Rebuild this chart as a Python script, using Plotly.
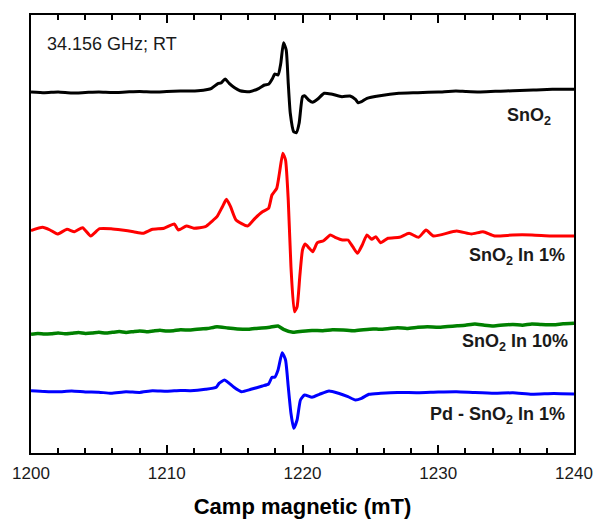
import plotly.graph_objects as go

# Magnetic field (mT) and EPR intensity (a.u., offset for display)
x_sno2 = [1200.0, 1201.0, 1202.0, 1203.0, 1204.0, 1205.0, 1206.0, 1207.0, 1208.0, 1209.0,
          1210.0, 1211.0, 1211.7, 1212.3, 1213.0, 1213.3, 1213.8, 1214.0, 1214.3, 1214.6,
          1215.0, 1215.4, 1216.1, 1216.8, 1217.2, 1217.5, 1217.8, 1217.95, 1218.2, 1218.4,
          1218.6, 1218.8, 1218.95, 1219.1, 1219.35, 1219.55, 1219.75, 1220.0, 1220.15, 1220.45,
          1220.75, 1221.1, 1221.6, 1222.1, 1222.9, 1223.5, 1223.9, 1224.1, 1224.35, 1224.75,
          1225.7, 1227.1, 1228.5, 1230.0, 1231.3, 1232.0, 1233.0, 1234.2, 1235.0, 1236.0,
          1237.0, 1238.4, 1240.0]
y_sno2 = [363, 362.3, 363, 362, 362.5, 363, 362.5, 363, 363.5, 363,
          363.5, 364, 364, 364.3, 365.5, 366.7, 371.7, 372, 376, 371.7,
          367.3, 364.3, 363.3, 366.7, 370, 370.7, 376.7, 381, 380, 391.7,
          412.3, 405, 371.7, 341.7, 323.3, 322.3, 331.7, 358.3, 359.3, 355,
          352.7, 355.7, 361.7, 361, 358.3, 359, 355.7, 352.3, 353.3, 356.7,
          359.3, 361.7, 362.3, 363, 364, 363.5, 363, 363.7, 364, 364.5,
          365, 365.7, 365.7]

x_in1 = [1200.0, 1200.85, 1201.4, 1201.95, 1202.65, 1203.2, 1203.8, 1204.4, 1205.05, 1205.9,
         1206.7, 1207.55, 1208.25, 1208.95, 1209.8, 1210.55, 1210.85, 1211.45, 1212.0, 1212.85,
         1213.3, 1213.7, 1214.1, 1214.4, 1214.7, 1215.1, 1215.95, 1216.5, 1217.05, 1217.5,
         1217.75, 1218.1, 1218.3, 1218.55, 1218.75, 1218.95, 1219.15, 1219.4, 1219.6, 1219.8,
         1220.0, 1220.2, 1220.5, 1220.75, 1221.1, 1221.55, 1222.05, 1222.4, 1222.95, 1223.35,
         1223.7, 1224.05, 1224.4, 1224.75, 1225.1, 1225.4, 1225.75, 1226.3, 1227.15, 1227.85,
         1228.55, 1229.1, 1229.65, 1231.35, 1232.45, 1233.3, 1234.15, 1235.5, 1236.9, 1238.3,
         1240.0]
y_in1 = [224.3, 227.7, 225, 221, 225.7, 223.3, 227.3, 219, 226.3, 226.3,
         225, 223.3, 221.7, 225.7, 226.7, 231, 225, 229, 226.7, 228.3,
         233.3, 238.3, 248.3, 255.7, 248.3, 235, 229, 236.7, 243.3, 246.7,
         260, 266.7, 281.7, 301.7, 295, 255, 188.3, 143.3, 148.3, 178.3,
         205, 211, 206.7, 203.3, 212.3, 214.3, 220, 217.7, 215, 215,
         208.3, 201.7, 210, 220, 215.7, 218.3, 212.3, 216.7, 217.7, 221.7,
         217.7, 225, 219, 224, 221, 223.3, 219, 220, 220, 219,
         219]

x_in10 = [1200.0, 1200.5, 1201.0, 1201.5, 1202.0, 1202.5, 1203.0, 1203.5, 1204.0, 1204.5,
          1205.0, 1205.5, 1206.0, 1206.5, 1207.0, 1207.5, 1208.0, 1208.5, 1209.0, 1209.5,
          1210.0, 1210.5, 1211.0, 1211.75, 1212.5, 1213.0, 1213.7, 1214.5, 1215.2, 1215.95,
          1216.5, 1217.0, 1217.6, 1218.2, 1218.6, 1219.3, 1220.0, 1220.7, 1221.5, 1222.2,
          1223.0, 1223.8, 1224.5, 1225.2, 1225.7, 1226.4, 1227.0, 1227.7, 1228.5, 1229.2,
          1230.0, 1230.7, 1231.4, 1232.0, 1232.7, 1233.4, 1234.1, 1234.8, 1235.5, 1236.2,
          1236.9, 1237.6, 1238.5, 1239.2, 1240.0]
y_in10 = [120.7, 121.5, 120.9, 121.3, 122.1, 121.2, 121.7, 122.5, 121.6, 122,
          122.8, 121.9, 122.7, 123.4, 122.6, 123.3, 124.1, 123.2, 124, 124.8,
          123.9, 124.3, 125.2, 125, 126, 126.4, 128.3, 127, 126.1, 125.7,
          126.6, 127, 127.8, 129, 125.7, 122.7, 123.8, 124.6, 124.3, 125.3,
          125, 124.2, 125.3, 126.1, 125.7, 126.5, 127.2, 126.6, 127.7, 128.3,
          127.7, 128.5, 129.2, 129.8, 131, 129.7, 129, 130, 130.6, 129.8,
          131, 130.4, 130.3, 131.2, 131.7]

x_pd = [1200.0, 1201.0, 1202.0, 1203.0, 1204.0, 1205.0, 1205.9, 1207.0, 1208.0, 1208.95,
        1210.0, 1211.0, 1211.75, 1212.85, 1213.65,
        1213.85, 1214.25, 1214.55, 1214.95, 1215.5, 1216.2, 1217.05, 1217.5, 1217.75, 1217.95,
        1218.2, 1218.5, 1218.75, 1218.95, 1219.15, 1219.35, 1219.6, 1219.85, 1220.15, 1220.7,
        1221.25, 1221.95, 1222.65, 1223.35, 1223.9, 1224.35, 1224.9, 1225.75, 1227.0, 1228.5,
        1230.0, 1231.35, 1232.7, 1234.15, 1235.5, 1236.9, 1238.5, 1240.0]
y_pd = [64.3, 63.6, 63.3, 64, 63.1, 62.8, 61.7, 63.3, 62.6, 64.3,
        63.7, 64.5, 64.3, 65.7, 67.7,
        71.7, 75, 72.3, 67.7, 63.3, 65.7, 69, 71, 77.7, 77.7,
        85, 102.3, 95, 68.3, 41.7, 26.7, 35, 55, 60, 57.7,
        60.7, 64, 61.7, 58.3, 55, 56.7, 60.7, 61.7, 62.6, 62.3,
        63, 63.3, 62.4, 61.7, 62.2, 60.7, 61.5, 61]

series_names = ["SnO<sub>2</sub>", "SnO<sub>2</sub> In 1%", "SnO<sub>2</sub> In 10%",
                "Pd - SnO<sub>2</sub> In 1%"]
series_x = [x_sno2, x_in1, x_in10, x_pd]
series_y = [y_sno2, y_in1, y_in10, y_pd]
colors = ["#000000", "#ff0000", "#008000", "#0000ff"]
widths = [3, 3, 3.5, 3]
label_x = [1238.45, 1239.5, 1239.7, 1239.45]
label_y = [339, 198.5, 113, 40]

FONT = "Liberation Sans, Arial, sans-serif"

fig = go.Figure()
for xs, ys, c, w in zip(series_x, series_y, colors, widths):
    fig.add_trace(go.Scatter(x=xs, y=ys, mode="lines",
                             line=dict(color=c, width=w, shape="spline", smoothing=0.5),
                             showlegend=False, hoverinfo="skip"))

for name, lx, ly in zip(series_names, label_x, label_y):
    fig.add_annotation(x=lx, y=ly, text="<b>" + name + "</b>", showarrow=False,
                       xanchor="right", yanchor="middle",
                       font=dict(family=FONT, size=18, color="#1a1a1a"))

fig.add_annotation(x=1201.0, y=411.3, text="34.156 GHz; RT", showarrow=False,
                   xanchor="left", yanchor="middle",
                   font=dict(family=FONT, size=18, color="#1a1a1a"))

fig.update_layout(
    width=597, height=519,
    margin=dict(l=31, r=23, t=15, b=66, autoexpand=False),
    paper_bgcolor="white", plot_bgcolor="white",
    font=dict(family=FONT, color="#1a1a1a"),
    xaxis=dict(range=[1200, 1240], tickvals=[1200, 1210, 1220, 1230, 1240],
               automargin=False,
               ticks="inside", ticklen=8, tickwidth=1.5, tickcolor="black",
               ticklabelstandoff=4,
               showline=True, linecolor="black", linewidth=2, mirror="ticks",
               showgrid=False, zeroline=False,
               tickfont=dict(family=FONT, size=17, color="#1a1a1a"),
               minor=dict(dtick=2, ticks="inside", ticklen=5, tickwidth=1.5, tickcolor="black",
                          showgrid=False),
               title=dict(text="<b>Camp magnetic (mT)</b>", standoff=18,
                          font=dict(family=FONT, size=22, color="black"))),
    yaxis=dict(range=[2, 440], showticklabels=False, ticks="", automargin=False,
               showline=True, linecolor="black", linewidth=2, mirror=True,
               showgrid=False, zeroline=False),
)

fig.write_html("out.html")
